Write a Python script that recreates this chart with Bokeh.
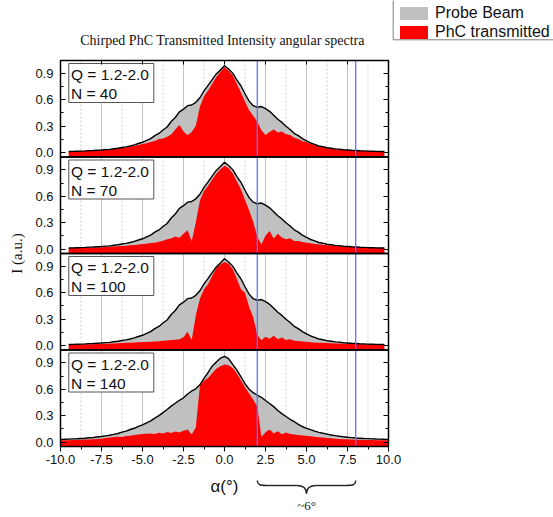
import numpy as np
from bokeh.plotting import figure
from bokeh.models import (Range1d, LinearAxis, FixedTicker, PrintfTickFormatter,
                          ColumnDataSource, Legend, LegendItem)
from bokeh.core.properties import value
from bokeh.embed import file_html
from bokeh.resources import INLINE

# ---------------- data ----------------
angle_upper = np.arange(-9.5, 9.76, 0.25)    # panels N = 40, 70, 100
angle_lower = np.arange(-10.0, 10.01, 0.25)  # panel N = 140

probe_upper = [
    0.012, 0.013, 0.015, 0.016, 0.018, 0.021, 0.022, 0.026, 0.028, 0.033,
    0.036, 0.043, 0.048, 0.057, 0.064, 0.074, 0.086, 0.102, 0.116, 0.138,
    0.158, 0.192, 0.216, 0.256, 0.290, 0.352, 0.398, 0.462, 0.492, 0.532,
    0.540, 0.570, 0.622, 0.700, 0.762, 0.828, 0.893, 0.938, 0.985, 0.948,
    0.902, 0.826, 0.758, 0.668, 0.584, 0.532, 0.514, 0.522, 0.498, 0.468,
    0.424, 0.378, 0.342, 0.298, 0.262, 0.218, 0.192, 0.158, 0.132, 0.108,
    0.092, 0.074, 0.066, 0.054, 0.049, 0.041, 0.038, 0.032, 0.029, 0.025,
    0.023, 0.020, 0.019, 0.016, 0.015, 0.013, 0.012, 0.011]

red_N40 = [
    0.010, 0.012, 0.014, 0.015, 0.017, 0.019, 0.021, 0.024, 0.026, 0.030,
    0.034, 0.040, 0.045, 0.052, 0.058, 0.066, 0.076, 0.085, 0.096, 0.104,
    0.120, 0.132, 0.152, 0.160, 0.178, 0.205, 0.262, 0.312, 0.238, 0.196,
    0.232, 0.305, 0.520, 0.640, 0.705, 0.780, 0.858, 0.918, 0.968, 0.930,
    0.878, 0.780, 0.682, 0.580, 0.480, 0.418, 0.350, 0.252, 0.198, 0.232,
    0.262, 0.228, 0.240, 0.208, 0.198, 0.168, 0.152, 0.128, 0.118, 0.098,
    0.088, 0.072, 0.064, 0.053, 0.047, 0.040, 0.036, 0.031, 0.028, 0.024,
    0.022, 0.020, 0.018, 0.016, 0.014, 0.013, 0.012, 0.011]

red_N70 = [
    0.010, 0.011, 0.012, 0.013, 0.014, 0.015, 0.016, 0.018, 0.020, 0.022,
    0.025, 0.027, 0.030, 0.034, 0.038, 0.042, 0.046, 0.050, 0.056, 0.060,
    0.068, 0.072, 0.082, 0.095, 0.112, 0.120, 0.142, 0.128, 0.172, 0.212,
    0.088, 0.300, 0.550, 0.660, 0.720, 0.790, 0.855, 0.905, 0.945, 0.920,
    0.860, 0.770, 0.680, 0.560, 0.440, 0.310, 0.140, 0.052, 0.150, 0.205,
    0.120, 0.172, 0.132, 0.110, 0.122, 0.092, 0.090, 0.080, 0.072, 0.066,
    0.058, 0.053, 0.048, 0.044, 0.040, 0.036, 0.032, 0.029, 0.026, 0.024,
    0.022, 0.020, 0.018, 0.016, 0.015, 0.014, 0.013, 0.012]

red_N100 = [
    0.010, 0.010, 0.011, 0.012, 0.013, 0.014, 0.015, 0.016, 0.018, 0.020,
    0.022, 0.024, 0.026, 0.028, 0.030, 0.032, 0.034, 0.036, 0.039, 0.041,
    0.043, 0.046, 0.049, 0.053, 0.056, 0.062, 0.066, 0.072, 0.095, 0.155,
    0.060, 0.340, 0.530, 0.640, 0.700, 0.790, 0.880, 0.920, 0.950, 0.930,
    0.870, 0.760, 0.640, 0.600, 0.440, 0.320, 0.120, 0.060, 0.100, 0.078,
    0.110, 0.070, 0.090, 0.062, 0.070, 0.055, 0.051, 0.046, 0.042, 0.038,
    0.035, 0.032, 0.030, 0.028, 0.026, 0.024, 0.022, 0.020, 0.019, 0.018,
    0.017, 0.016, 0.015, 0.014, 0.013, 0.012, 0.011, 0.010]

probe_lower = [
    0.030, 0.031, 0.033, 0.035, 0.037, 0.040, 0.043, 0.048, 0.051, 0.057,
    0.062, 0.070, 0.077, 0.087, 0.097, 0.112, 0.124, 0.142, 0.156, 0.178,
    0.195, 0.218, 0.240, 0.272, 0.300, 0.334, 0.370, 0.408, 0.440, 0.474,
    0.502, 0.546, 0.580, 0.604, 0.650, 0.722, 0.790, 0.862, 0.910, 0.952,
    0.972, 0.948, 0.882, 0.818, 0.742, 0.662, 0.600, 0.560, 0.532, 0.508,
    0.472, 0.438, 0.402, 0.358, 0.322, 0.290, 0.258, 0.232, 0.200, 0.176,
    0.155, 0.140, 0.124, 0.110, 0.100, 0.090, 0.080, 0.072, 0.065, 0.059,
    0.054, 0.050, 0.046, 0.043, 0.040, 0.038, 0.036, 0.034, 0.033, 0.031,
    0.030]

red_N140 = [
    0.020, 0.020, 0.021, 0.022, 0.023, 0.025, 0.027, 0.029, 0.031, 0.034,
    0.038, 0.045, 0.050, 0.056, 0.060, 0.058, 0.068, 0.072, 0.080, 0.084,
    0.090, 0.094, 0.098, 0.092, 0.104, 0.096, 0.115, 0.102, 0.120, 0.108,
    0.128, 0.142, 0.085, 0.165, 0.640, 0.700, 0.728, 0.780, 0.832, 0.862,
    0.882, 0.872, 0.842, 0.780, 0.702, 0.622, 0.552, 0.482, 0.402, 0.058,
    0.112, 0.142, 0.098, 0.122, 0.088, 0.108, 0.090, 0.085, 0.080, 0.075,
    0.070, 0.065, 0.060, 0.055, 0.050, 0.046, 0.042, 0.038, 0.035, 0.032,
    0.030, 0.028, 0.026, 0.025, 0.024, 0.023, 0.022, 0.021, 0.021, 0.020,
    0.020]

N_values = [40, 70, 100, 140]
Q_range = "1.2-2.0"
x_ticks = [-10.0, -7.5, -5.0, -2.5, 0.0, 2.5, 5.0, 7.5, 10.0]
x_minor = [-8.75, -6.25, -3.75, -1.25, 1.25, 3.75, 6.25, 8.75]
y_ticks = [0.0, 0.3, 0.6, 0.9]
y_minor = [0.15, 0.45, 0.75]
marker_angles = [2.0, 8.0]
title_text = "Chirped PhC Transmitted Intensity angular spectra"
x_label = "α(°)"
y_label = "I (a.u.)"
brace_label = "~6°"
legend_labels = ["Probe Beam", "PhC transmitted"]

panels = [
    (angle_upper, probe_upper, red_N40),
    (angle_upper, probe_upper, red_N70),
    (angle_upper, probe_upper, red_N100),
    (angle_lower, probe_lower, red_N140),
]
for a, pr, rd in panels:
    assert len(a) == len(pr) == len(rd), (len(a), len(pr), len(rd))

# ---------------- layout (pixels) ----------------
W, H = 553, 517
FRAME_L, FRAME_R = 60.0, 388.0
FRAME_T, PANEL_H = 60.0, 96.5
FRAME_B = FRAME_T + 4 * PANEL_H
X_MIN, X_MAX = -10.0, 10.0
PX_PER_DEG = (FRAME_R - FRAME_L) / (X_MAX - X_MIN)
PX_PER_UNIT = 88.0
ZERO_INSET = 4.5
V_BOT = -ZERO_INSET / PX_PER_UNIT

SANS = "Liberation Sans"
SERIF = "Liberation Serif"
GREY = "#c0c0c0"
RED = "#ff0000"

x_start = X_MIN - FRAME_L / PX_PER_DEG
x_end = X_MIN + (W - FRAME_L) / PX_PER_DEG

p = figure(width=W, height=H, x_range=Range1d(x_start, x_end), y_range=Range1d(H, 0),
           x_axis_type=None, y_axis_type=None, toolbar_location=None,
           output_backend="svg", min_border=0, title=None)
p.outline_line_color = None
p.background_fill_color = "white"
p.border_fill_color = "white"

extra_y = {}
panel_tops = []
for k in range(4):
    top = FRAME_T + k * PANEL_H
    panel_tops.append(top)
    zero = top + PANEL_H - ZERO_INSET
    extra_y[f"p{k}"] = Range1d((zero - H) / PX_PER_UNIT, zero / PX_PER_UNIT)
p.extra_y_ranges = extra_y
p.extra_x_ranges = {"px": Range1d(0, W)}

# grid lines (vertical), limited to the stacked panels
grid_major = x_ticks[1:-1]
p.segment(x0=grid_major, x1=grid_major, y0=[FRAME_T] * len(grid_major),
          y1=[FRAME_B] * len(grid_major), line_color="#c4c4c4", line_width=1)
p.segment(x0=x_minor, x1=x_minor, y0=[FRAME_T] * len(x_minor),
          y1=[FRAME_B] * len(x_minor), line_color="#cfcfcf", line_width=1,
          line_dash="2 2")

grey_rs, red_rs = [], []
for k, (ang, probe, red) in enumerate(panels):
    rn = f"p{k}"
    src = ColumnDataSource(dict(x=list(ang), probe=probe, red=red,
                                base=[V_BOT] * len(ang)))
    g = p.varea(x="x", y1="base", y2="probe", source=src, fill_color=GREY,
                y_range_name=rn)
    r = p.varea(x="x", y1="base", y2="red", source=src, fill_color=RED,
                y_range_name=rn)
    p.line(x="x", y="probe", source=src, line_color="black", line_width=1.4,
           y_range_name=rn)
    grey_rs.append(g)
    red_rs.append(r)

    ax = LinearAxis(y_range_name=rn, fixed_location=X_MIN,
                    ticker=FixedTicker(ticks=y_ticks, minor_ticks=y_minor),
                    formatter=PrintfTickFormatter(format="%.1f"))
    ax.axis_line_color = None
    ax.major_tick_in, ax.major_tick_out = 5, 0
    ax.minor_tick_in, ax.minor_tick_out = 3, 0
    ax.major_label_standoff = 7
    ax.major_label_text_font = SANS
    ax.major_label_text_font_size = "13px"
    ax.major_label_text_color = "#111111"
    p.add_layout(ax, "left")

    axr = LinearAxis(y_range_name=rn, fixed_location=X_MAX,
                     ticker=FixedTicker(ticks=y_ticks, minor_ticks=y_minor))
    axr.axis_line_color = None
    axr.major_tick_in, axr.major_tick_out = 5, 0
    axr.minor_tick_in, axr.minor_tick_out = 3, 0
    axr.major_label_text_color = None
    p.add_layout(axr, "right")

# marker lines
p.segment(x0=marker_angles, x1=marker_angles, y0=[FRAME_T] * 2, y1=[FRAME_B] * 2,
          line_color="#6f6fff", line_width=1.3)

# panel frames
p.quad(left=[X_MIN] * 4, right=[X_MAX] * 4, top=panel_tops,
       bottom=[t + PANEL_H for t in panel_tops], fill_color=None,
       line_color="black", line_width=1.5)

# Q / N boxes
p.quad(x_range_name="px", left=[68.3] * 4, right=[153.3] * 4,
       top=[t + 3 for t in panel_tops], bottom=[t + 42 for t in panel_tops],
       fill_color="white", line_color="#555555", line_width=1)
p.text(x_range_name="px", x=[70.5] * 4, y=[t + 14.4 for t in panel_tops],
       text=[f"Q = {Q_range}"] * 4, text_font=value(SANS),
       text_font_size="15.5px", text_baseline="middle", text_color="#111111")
p.text(x_range_name="px", x=[70.5] * 4, y=[t + 33.2 for t in panel_tops],
       text=[f"N = {n}" for n in N_values], text_font=value(SANS),
       text_font_size="15.5px", text_baseline="middle", text_color="#111111")

# bottom x axis
xax = LinearAxis(fixed_location=FRAME_B,
                 ticker=FixedTicker(ticks=x_ticks, minor_ticks=x_minor),
                 formatter=PrintfTickFormatter(format="%.1f"))
xax.axis_line_color = None
xax.major_tick_in, xax.major_tick_out = 0, 5
xax.minor_tick_in, xax.minor_tick_out = 0, 3
xax.major_label_standoff = 3
xax.major_label_text_font = SANS
xax.major_label_text_font_size = "13px"
xax.major_label_text_color = "#111111"
p.add_layout(xax, "below")

# top mirror ticks
tax = LinearAxis(fixed_location=FRAME_T, ticker=FixedTicker(ticks=grid_major))
tax.axis_line_color = None
tax.major_tick_in, tax.major_tick_out = 4, 0
tax.minor_tick_in, tax.minor_tick_out = 0, 0
tax.major_label_text_color = None
p.add_layout(tax, "above")

# titles and labels
p.text(x_range_name="px", x=[222], y=[40], text=[title_text], text_font=value(SERIF),
       text_font_size="14px", text_align="center", text_baseline="middle",
       text_color="#111111")
p.text(x_range_name="px", x=[16], y=[(FRAME_T + FRAME_B) / 2], text=[y_label],
       text_font=value(SERIF), text_font_size="15px", text_align="center",
       text_baseline="middle", angle=np.pi / 2, text_color="#111111")
p.text(x=[0.0], y=[486], text=[x_label], text_font=value(SANS),
       text_font_size="17px", text_align="center", text_baseline="middle",
       text_color="#111111")

# brace between the marker lines
b0, b1 = marker_angles
bm = (b0 + b1) / 2
y_end, y_flat, y_tip = 480.0, 485.0, 493.0
curl = 0.6
p.bezier(x0=[b0, b0 + curl, bm - curl, bm, bm + curl, b1 - curl],
         y0=[y_end, y_flat, y_flat, y_tip, y_flat, y_flat],
         x1=[b0 + curl, bm - curl, bm, bm + curl, b1 - curl, b1],
         y1=[y_flat, y_flat, y_tip, y_flat, y_flat, y_end],
         cx0=[b0, b0 + curl, bm - 0.15, bm, bm + curl, b1 - 0.15],
         cy0=[y_flat - 1, y_flat, y_flat, y_tip - 4, y_flat, y_flat],
         cx1=[b0 + 0.15, bm - curl, bm, bm + 0.15, b1 - curl, b1],
         cy1=[y_flat, y_flat, y_tip - 4, y_flat, y_flat, y_flat - 1],
         line_color="#222222", line_width=1.4)
p.text(x=[bm], y=[505], text=[brace_label], text_font=value(SERIF),
       text_font_size="13px", text_align="center", text_baseline="middle",
       text_color="#111111")

# legend (frame box drawn separately, partly outside the window like the original)
p.quad(x_range_name="px", left=[392.7], right=[W + 6], top=[-3], bottom=[39.3],
       fill_color="white", line_color="#808080", line_width=1)
legend = Legend(items=[LegendItem(label=legend_labels[0], renderers=grey_rs),
                       LegendItem(label=legend_labels[1], renderers=red_rs)],
                location=(396, H - 41), orientation="vertical",
                border_line_color=None, background_fill_alpha=0,
                padding=4, spacing=1, margin=0, glyph_width=35, glyph_height=16,
                label_standoff=4, label_height=16,
                label_text_font=SANS, label_text_font_size="16px",
                label_text_color="#111111")
p.add_layout(legend)

open("out.html", "w").write(file_html(p, INLINE))
